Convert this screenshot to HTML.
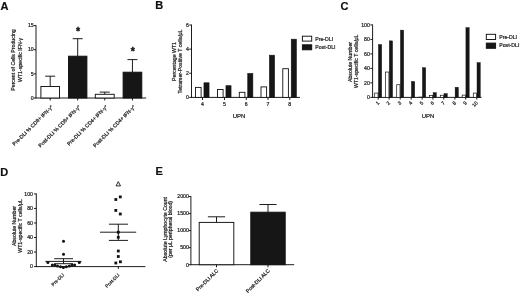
<!DOCTYPE html>
<html><head><meta charset="utf-8"><title>Figure</title>
<style>
html,body{margin:0;padding:0;background:#fff;}
body{width:520px;height:295px;overflow:hidden;}
svg{display:block;font-family:"Liberation Sans",Arial,Helvetica,sans-serif;}
</style></head><body>
<svg width="520" height="295" viewBox="0 0 520 295">
<rect x="0" y="0" width="520" height="295" fill="#fff"/>
<text x="0.50" y="9.50" font-size="11" text-anchor="start" font-weight="bold" fill="#111" stroke="#111" stroke-width="0.2">A</text>
<text x="155.30" y="9.40" font-size="11" text-anchor="start" font-weight="bold" fill="#111" stroke="#111" stroke-width="0.2">B</text>
<text x="340.60" y="9.80" font-size="11" text-anchor="start" font-weight="bold" fill="#111" stroke="#111" stroke-width="0.2">C</text>
<text x="0.30" y="175.80" font-size="11" text-anchor="start" font-weight="bold" fill="#111" stroke="#111" stroke-width="0.2">D</text>
<text x="155.40" y="175.40" font-size="11" text-anchor="start" font-weight="bold" fill="#111" stroke="#111" stroke-width="0.2">E</text>
<g id="panelA">
<line x1="36.00" y1="25.20" x2="36.00" y2="98.40" stroke="#111" stroke-width="0.95"/>
<line x1="35.60" y1="98.00" x2="146.20" y2="98.00" stroke="#111" stroke-width="0.95"/>
<line x1="33.70" y1="98.00" x2="36.00" y2="98.00" stroke="#111" stroke-width="0.95"/>
<text x="33.70" y="99.70" font-size="5.2" text-anchor="end" fill="#222" stroke="#222" stroke-width="0.22">0</text>
<line x1="33.70" y1="73.87" x2="36.00" y2="73.87" stroke="#111" stroke-width="0.95"/>
<text x="33.70" y="75.57" font-size="5.2" text-anchor="end" fill="#222" stroke="#222" stroke-width="0.22">5</text>
<line x1="33.70" y1="49.73" x2="36.00" y2="49.73" stroke="#111" stroke-width="0.95"/>
<text x="33.70" y="51.43" font-size="5.2" text-anchor="end" fill="#222" stroke="#222" stroke-width="0.22">10</text>
<line x1="33.70" y1="25.60" x2="36.00" y2="25.60" stroke="#111" stroke-width="0.95"/>
<text x="33.70" y="27.30" font-size="5.2" text-anchor="end" fill="#222" stroke="#222" stroke-width="0.22">15</text>
<line x1="50.20" y1="76.20" x2="50.20" y2="86.50" stroke="#111" stroke-width="0.95"/>
<line x1="45.20" y1="76.20" x2="55.20" y2="76.20" stroke="#111" stroke-width="0.95"/>
<rect x="40.90" y="86.50" width="18.60" height="11.50" fill="#fff" stroke="#111" stroke-width="0.95"/>
<line x1="50.20" y1="98.00" x2="50.20" y2="100.50" stroke="#111" stroke-width="0.95"/>
<text x="53.40" y="107.30" font-size="5.2" text-anchor="end" transform="rotate(-45 53.40 107.30)" fill="#222" stroke="#222" stroke-width="0.22">Pre-DLI % CD8+ IFN-γ<tspan font-size="3.4" dy="-1.6">+</tspan><tspan dy="1.6"></tspan></text>
<line x1="77.70" y1="38.70" x2="77.70" y2="56.20" stroke="#111" stroke-width="0.95"/>
<line x1="72.70" y1="38.70" x2="82.70" y2="38.70" stroke="#111" stroke-width="0.95"/>
<rect x="68.50" y="56.20" width="18.40" height="41.80" fill="#161616" stroke="#111" stroke-width="0.95"/>
<line x1="77.70" y1="98.00" x2="77.70" y2="100.50" stroke="#111" stroke-width="0.95"/>
<text x="80.90" y="107.30" font-size="5.2" text-anchor="end" transform="rotate(-45 80.90 107.30)" fill="#222" stroke="#222" stroke-width="0.22">Post-DLI % CD8+ IFN-γ<tspan font-size="3.4" dy="-1.6">+</tspan><tspan dy="1.6"></tspan></text>
<line x1="104.75" y1="92.10" x2="104.75" y2="94.30" stroke="#111" stroke-width="0.95"/>
<line x1="99.75" y1="92.10" x2="109.75" y2="92.10" stroke="#111" stroke-width="0.95"/>
<rect x="95.30" y="94.30" width="18.90" height="3.70" fill="#fff" stroke="#111" stroke-width="0.95"/>
<line x1="104.75" y1="98.00" x2="104.75" y2="100.50" stroke="#111" stroke-width="0.95"/>
<text x="107.95" y="107.30" font-size="5.2" text-anchor="end" transform="rotate(-45 107.95 107.30)" fill="#222" stroke="#222" stroke-width="0.22">Pre-DLI % CD4+ IFN-γ<tspan font-size="3.4" dy="-1.6">+</tspan><tspan dy="1.6"></tspan></text>
<line x1="132.45" y1="59.60" x2="132.45" y2="72.20" stroke="#111" stroke-width="0.95"/>
<line x1="127.45" y1="59.60" x2="137.45" y2="59.60" stroke="#111" stroke-width="0.95"/>
<rect x="123.10" y="72.20" width="18.70" height="25.80" fill="#161616" stroke="#111" stroke-width="0.95"/>
<line x1="132.45" y1="98.00" x2="132.45" y2="100.50" stroke="#111" stroke-width="0.95"/>
<text x="135.65" y="107.30" font-size="5.2" text-anchor="end" transform="rotate(-45 135.65 107.30)" fill="#222" stroke="#222" stroke-width="0.22">Post-DLI % CD4+ IFN-γ<tspan font-size="3.4" dy="-1.6">+</tspan><tspan dy="1.6"></tspan></text>
<text x="78.00" y="34.80" font-size="10.5" text-anchor="middle" font-weight="bold" fill="#111" stroke="#111" stroke-width="0.4">*</text>
<text x="132.80" y="54.80" font-size="10.5" text-anchor="middle" font-weight="bold" fill="#111" stroke="#111" stroke-width="0.4">*</text>
<text x="15.20" y="60.00" font-size="5.2" text-anchor="middle" transform="rotate(-90 15.20 60.00)" fill="#222" stroke="#222" stroke-width="0.22">Percent of Cells Producing</text>
<text x="21.50" y="60.00" font-size="5.2" text-anchor="middle" transform="rotate(-90 21.50 60.00)" fill="#222" stroke="#222" stroke-width="0.22">WT1-specific IFN-γ</text>
</g>
<g id="panelB">
<line x1="191.50" y1="24.60" x2="191.50" y2="97.80" stroke="#111" stroke-width="0.95"/>
<line x1="191.10" y1="97.40" x2="300.00" y2="97.40" stroke="#111" stroke-width="0.95"/>
<line x1="189.20" y1="97.40" x2="191.50" y2="97.40" stroke="#111" stroke-width="0.95"/>
<text x="188.90" y="99.20" font-size="5.2" text-anchor="end" fill="#222" stroke="#222" stroke-width="0.22">0</text>
<line x1="189.20" y1="73.27" x2="191.50" y2="73.27" stroke="#111" stroke-width="0.95"/>
<text x="188.90" y="75.07" font-size="5.2" text-anchor="end" fill="#222" stroke="#222" stroke-width="0.22">2</text>
<line x1="189.20" y1="49.13" x2="191.50" y2="49.13" stroke="#111" stroke-width="0.95"/>
<text x="188.90" y="50.93" font-size="5.2" text-anchor="end" fill="#222" stroke="#222" stroke-width="0.22">4</text>
<line x1="189.20" y1="25.00" x2="191.50" y2="25.00" stroke="#111" stroke-width="0.95"/>
<text x="188.90" y="26.80" font-size="5.2" text-anchor="end" fill="#222" stroke="#222" stroke-width="0.22">6</text>
<rect x="195.50" y="87.40" width="5.60" height="10.00" fill="#fff" stroke="#111" stroke-width="0.9"/>
<rect x="203.95" y="82.80" width="5.10" height="14.60" fill="#161616" stroke="#111" stroke-width="0.6"/>
<line x1="202.50" y1="97.40" x2="202.50" y2="100.00" stroke="#111" stroke-width="0.95"/>
<text x="202.50" y="105.80" font-size="5.2" text-anchor="middle" fill="#222" stroke="#222" stroke-width="0.22">4</text>
<rect x="217.50" y="89.50" width="5.60" height="7.90" fill="#fff" stroke="#111" stroke-width="0.9"/>
<rect x="225.95" y="85.70" width="5.10" height="11.70" fill="#161616" stroke="#111" stroke-width="0.6"/>
<line x1="224.50" y1="97.40" x2="224.50" y2="100.00" stroke="#111" stroke-width="0.95"/>
<text x="224.50" y="105.80" font-size="5.2" text-anchor="middle" fill="#222" stroke="#222" stroke-width="0.22">5</text>
<rect x="239.30" y="92.30" width="5.60" height="5.10" fill="#fff" stroke="#111" stroke-width="0.9"/>
<rect x="247.75" y="73.50" width="5.10" height="23.90" fill="#161616" stroke="#111" stroke-width="0.6"/>
<line x1="246.30" y1="97.40" x2="246.30" y2="100.00" stroke="#111" stroke-width="0.95"/>
<text x="246.30" y="105.80" font-size="5.2" text-anchor="middle" fill="#222" stroke="#222" stroke-width="0.22">6</text>
<rect x="261.00" y="86.90" width="5.60" height="10.50" fill="#fff" stroke="#111" stroke-width="0.9"/>
<rect x="269.45" y="55.20" width="5.10" height="42.20" fill="#161616" stroke="#111" stroke-width="0.6"/>
<line x1="268.00" y1="97.40" x2="268.00" y2="100.00" stroke="#111" stroke-width="0.95"/>
<text x="268.00" y="105.80" font-size="5.2" text-anchor="middle" fill="#222" stroke="#222" stroke-width="0.22">7</text>
<rect x="282.80" y="68.70" width="5.60" height="28.70" fill="#fff" stroke="#111" stroke-width="0.9"/>
<rect x="291.25" y="39.20" width="5.10" height="58.20" fill="#161616" stroke="#111" stroke-width="0.6"/>
<line x1="289.80" y1="97.40" x2="289.80" y2="100.00" stroke="#111" stroke-width="0.95"/>
<text x="289.80" y="105.80" font-size="5.2" text-anchor="middle" fill="#222" stroke="#222" stroke-width="0.22">8</text>
<text x="239.00" y="117.80" font-size="6.0" text-anchor="middle" fill="#222" stroke="#222" stroke-width="0.22">UPN</text>
<rect x="302.40" y="36.20" width="9.30" height="4.90" fill="#fff" stroke="#111" stroke-width="0.95"/>
<rect x="302.40" y="44.80" width="9.30" height="5.00" fill="#161616" stroke="#111" stroke-width="0.95"/>
<text x="315.30" y="40.60" font-size="5.2" text-anchor="start" fill="#222" stroke="#222" stroke-width="0.22">Pre-DLI</text>
<text x="315.30" y="49.10" font-size="5.2" text-anchor="start" fill="#222" stroke="#222" stroke-width="0.22">Post-DLI</text>
<text x="175.50" y="61.50" font-size="5.2" text-anchor="middle" transform="rotate(-90 175.50 61.50)" fill="#222" stroke="#222" stroke-width="0.22">Percentage WT1</text>
<text x="181.90" y="61.50" font-size="5.2" text-anchor="middle" transform="rotate(-90 181.90 61.50)" fill="#222" stroke="#222" stroke-width="0.22">Tetramer-Positive T cells/μL</text>
</g>
<g id="panelC">
<line x1="372.60" y1="24.50" x2="372.60" y2="97.80" stroke="#111" stroke-width="0.95"/>
<line x1="372.20" y1="97.40" x2="481.50" y2="97.40" stroke="#111" stroke-width="0.95"/>
<line x1="370.30" y1="97.40" x2="372.60" y2="97.40" stroke="#111" stroke-width="0.95"/>
<text x="369.80" y="99.20" font-size="5.2" text-anchor="end" fill="#222" stroke="#222" stroke-width="0.22">0</text>
<line x1="370.30" y1="82.90" x2="372.60" y2="82.90" stroke="#111" stroke-width="0.95"/>
<text x="369.80" y="84.70" font-size="5.2" text-anchor="end" fill="#222" stroke="#222" stroke-width="0.22">20</text>
<line x1="370.30" y1="68.40" x2="372.60" y2="68.40" stroke="#111" stroke-width="0.95"/>
<text x="369.80" y="70.20" font-size="5.2" text-anchor="end" fill="#222" stroke="#222" stroke-width="0.22">40</text>
<line x1="370.30" y1="53.90" x2="372.60" y2="53.90" stroke="#111" stroke-width="0.95"/>
<text x="369.80" y="55.70" font-size="5.2" text-anchor="end" fill="#222" stroke="#222" stroke-width="0.22">60</text>
<line x1="370.30" y1="39.40" x2="372.60" y2="39.40" stroke="#111" stroke-width="0.95"/>
<text x="369.80" y="41.20" font-size="5.2" text-anchor="end" fill="#222" stroke="#222" stroke-width="0.22">80</text>
<line x1="370.30" y1="24.90" x2="372.60" y2="24.90" stroke="#111" stroke-width="0.95"/>
<text x="369.80" y="26.70" font-size="5.2" text-anchor="end" fill="#222" stroke="#222" stroke-width="0.22">100</text>
<rect x="374.70" y="93.05" width="3.30" height="4.35" fill="#fff" stroke="#111" stroke-width="0.7"/>
<rect x="378.40" y="44.48" width="3.30" height="52.92" fill="#161616" stroke="#111" stroke-width="0.4"/>
<line x1="378.20" y1="97.40" x2="378.20" y2="99.60" stroke="#111" stroke-width="0.95"/>
<text x="379.70" y="103.20" font-size="5.0" text-anchor="end" transform="rotate(-45 379.70 103.20)" fill="#222" stroke="#222" stroke-width="0.22">1</text>
<rect x="385.60" y="72.03" width="3.30" height="25.38" fill="#fff" stroke="#111" stroke-width="0.7"/>
<rect x="389.30" y="40.85" width="3.30" height="56.55" fill="#161616" stroke="#111" stroke-width="0.4"/>
<line x1="389.10" y1="97.40" x2="389.10" y2="99.60" stroke="#111" stroke-width="0.95"/>
<text x="390.60" y="103.20" font-size="5.0" text-anchor="end" transform="rotate(-45 390.60 103.20)" fill="#222" stroke="#222" stroke-width="0.22">2</text>
<rect x="396.70" y="84.71" width="3.30" height="12.69" fill="#fff" stroke="#111" stroke-width="0.7"/>
<rect x="400.40" y="30.12" width="3.30" height="67.28" fill="#161616" stroke="#111" stroke-width="0.4"/>
<line x1="400.20" y1="97.40" x2="400.20" y2="99.60" stroke="#111" stroke-width="0.95"/>
<text x="401.70" y="103.20" font-size="5.0" text-anchor="end" transform="rotate(-45 401.70 103.20)" fill="#222" stroke="#222" stroke-width="0.22">3</text>
<rect x="411.40" y="81.45" width="3.30" height="15.95" fill="#161616" stroke="#111" stroke-width="0.4"/>
<line x1="411.20" y1="97.40" x2="411.20" y2="99.60" stroke="#111" stroke-width="0.95"/>
<text x="412.70" y="103.20" font-size="5.0" text-anchor="end" transform="rotate(-45 412.70 103.20)" fill="#222" stroke="#222" stroke-width="0.22">4</text>
<rect x="418.70" y="97.11" width="3.30" height="0.29" fill="#fff" stroke="#111" stroke-width="0.7"/>
<rect x="422.40" y="67.68" width="3.30" height="29.72" fill="#161616" stroke="#111" stroke-width="0.4"/>
<line x1="422.20" y1="97.40" x2="422.20" y2="99.60" stroke="#111" stroke-width="0.95"/>
<text x="423.70" y="103.20" font-size="5.0" text-anchor="end" transform="rotate(-45 423.70 103.20)" fill="#222" stroke="#222" stroke-width="0.22">5</text>
<rect x="429.40" y="95.59" width="3.30" height="1.81" fill="#fff" stroke="#111" stroke-width="0.7"/>
<rect x="433.10" y="92.62" width="3.30" height="4.78" fill="#161616" stroke="#111" stroke-width="0.4"/>
<line x1="432.90" y1="97.40" x2="432.90" y2="99.60" stroke="#111" stroke-width="0.95"/>
<text x="434.40" y="103.20" font-size="5.0" text-anchor="end" transform="rotate(-45 434.40 103.20)" fill="#222" stroke="#222" stroke-width="0.22">6</text>
<rect x="440.30" y="95.23" width="3.30" height="2.17" fill="#fff" stroke="#111" stroke-width="0.7"/>
<rect x="444.00" y="93.56" width="3.30" height="3.84" fill="#161616" stroke="#111" stroke-width="0.4"/>
<line x1="443.80" y1="97.40" x2="443.80" y2="99.60" stroke="#111" stroke-width="0.95"/>
<text x="445.30" y="103.20" font-size="5.0" text-anchor="end" transform="rotate(-45 445.30 103.20)" fill="#222" stroke="#222" stroke-width="0.22">7</text>
<rect x="455.10" y="87.25" width="3.30" height="10.15" fill="#161616" stroke="#111" stroke-width="0.4"/>
<line x1="454.90" y1="97.40" x2="454.90" y2="99.60" stroke="#111" stroke-width="0.95"/>
<text x="456.40" y="103.20" font-size="5.0" text-anchor="end" transform="rotate(-45 456.40 103.20)" fill="#222" stroke="#222" stroke-width="0.22">8</text>
<rect x="462.20" y="95.08" width="3.30" height="2.32" fill="#fff" stroke="#111" stroke-width="0.7"/>
<rect x="465.90" y="27.58" width="3.30" height="69.82" fill="#161616" stroke="#111" stroke-width="0.4"/>
<line x1="465.70" y1="97.40" x2="465.70" y2="99.60" stroke="#111" stroke-width="0.95"/>
<text x="467.20" y="103.20" font-size="5.0" text-anchor="end" transform="rotate(-45 467.20 103.20)" fill="#222" stroke="#222" stroke-width="0.22">9</text>
<rect x="473.30" y="93.05" width="3.30" height="4.35" fill="#fff" stroke="#111" stroke-width="0.7"/>
<rect x="477.00" y="62.60" width="3.30" height="34.80" fill="#161616" stroke="#111" stroke-width="0.4"/>
<line x1="476.80" y1="97.40" x2="476.80" y2="99.60" stroke="#111" stroke-width="0.95"/>
<text x="478.30" y="103.20" font-size="5.0" text-anchor="end" transform="rotate(-45 478.30 103.20)" fill="#222" stroke="#222" stroke-width="0.22">10</text>
<text x="428.00" y="118.20" font-size="6.0" text-anchor="middle" fill="#222" stroke="#222" stroke-width="0.22">UPN</text>
<rect x="486.30" y="34.30" width="9.30" height="5.20" fill="#fff" stroke="#111" stroke-width="0.95"/>
<rect x="486.30" y="43.10" width="9.30" height="5.20" fill="#161616" stroke="#111" stroke-width="0.95"/>
<text x="499.20" y="39.00" font-size="5.2" text-anchor="start" fill="#222" stroke="#222" stroke-width="0.22">Pre-DLI</text>
<text x="499.20" y="47.30" font-size="5.2" text-anchor="start" fill="#222" stroke="#222" stroke-width="0.22">Post-DLI</text>
<text x="351.50" y="62.00" font-size="5.2" text-anchor="middle" transform="rotate(-90 351.50 62.00)" fill="#222" stroke="#222" stroke-width="0.22">Absolute Number</text>
<text x="358.30" y="61.30" font-size="5.2" text-anchor="middle" transform="rotate(-90 358.30 61.30)" fill="#222" stroke="#222" stroke-width="0.22">WT1-specific T cells/μL</text>
</g>
<g id="panelD">
<line x1="36.30" y1="193.50" x2="36.30" y2="267.00" stroke="#111" stroke-width="0.95"/>
<line x1="35.90" y1="266.60" x2="145.40" y2="266.60" stroke="#111" stroke-width="0.95"/>
<line x1="34.00" y1="266.60" x2="36.30" y2="266.60" stroke="#111" stroke-width="0.95"/>
<text x="33.00" y="268.40" font-size="5.2" text-anchor="end" fill="#222" stroke="#222" stroke-width="0.22">0</text>
<line x1="34.00" y1="252.06" x2="36.30" y2="252.06" stroke="#111" stroke-width="0.95"/>
<text x="33.00" y="253.86" font-size="5.2" text-anchor="end" fill="#222" stroke="#222" stroke-width="0.22">20</text>
<line x1="34.00" y1="237.52" x2="36.30" y2="237.52" stroke="#111" stroke-width="0.95"/>
<text x="33.00" y="239.32" font-size="5.2" text-anchor="end" fill="#222" stroke="#222" stroke-width="0.22">40</text>
<line x1="34.00" y1="222.98" x2="36.30" y2="222.98" stroke="#111" stroke-width="0.95"/>
<text x="33.00" y="224.78" font-size="5.2" text-anchor="end" fill="#222" stroke="#222" stroke-width="0.22">60</text>
<line x1="34.00" y1="208.44" x2="36.30" y2="208.44" stroke="#111" stroke-width="0.95"/>
<text x="33.00" y="210.24" font-size="5.2" text-anchor="end" fill="#222" stroke="#222" stroke-width="0.22">80</text>
<line x1="34.00" y1="193.90" x2="36.30" y2="193.90" stroke="#111" stroke-width="0.95"/>
<text x="33.00" y="195.70" font-size="5.2" text-anchor="end" fill="#222" stroke="#222" stroke-width="0.22">100</text>
<line x1="45.40" y1="261.40" x2="81.50" y2="261.40" stroke="#111" stroke-width="0.95"/>
<line x1="54.20" y1="258.70" x2="73.00" y2="258.70" stroke="#111" stroke-width="0.95"/>
<line x1="63.50" y1="258.70" x2="63.50" y2="263.70" stroke="#111" stroke-width="0.95"/>
<line x1="54.20" y1="263.70" x2="73.00" y2="263.70" stroke="#111" stroke-width="0.95"/>
<circle cx="63.5" cy="241.2" r="1.5" fill="#111"/>
<circle cx="63.5" cy="254.2" r="1.5" fill="#111"/>
<circle cx="47.9" cy="262.6" r="1.5" fill="#111"/>
<circle cx="79.3" cy="262.6" r="1.5" fill="#111"/>
<circle cx="52.3" cy="265.0" r="1.5" fill="#111"/>
<circle cx="54.9" cy="265.0" r="1.5" fill="#111"/>
<circle cx="72.0" cy="265.0" r="1.5" fill="#111"/>
<circle cx="74.6" cy="265.0" r="1.5" fill="#111"/>
<circle cx="57.5" cy="266.0" r="1.5" fill="#111"/>
<circle cx="69.3" cy="266.0" r="1.5" fill="#111"/>
<circle cx="60.5" cy="266.7" r="1.5" fill="#111"/>
<circle cx="66.3" cy="266.7" r="1.5" fill="#111"/>
<circle cx="63.4" cy="267.5" r="1.5" fill="#111"/>
<line x1="100.00" y1="232.20" x2="136.20" y2="232.20" stroke="#111" stroke-width="0.95"/>
<line x1="108.90" y1="224.20" x2="128.00" y2="224.20" stroke="#111" stroke-width="0.95"/>
<line x1="108.90" y1="240.40" x2="128.00" y2="240.40" stroke="#111" stroke-width="0.95"/>
<line x1="118.30" y1="224.20" x2="118.30" y2="240.40" stroke="#111" stroke-width="0.95"/>
<rect x="118.90" y="195.50" width="2.8" height="2.8" fill="#111"/>
<rect x="114.40" y="198.10" width="2.8" height="2.8" fill="#111"/>
<rect x="114.40" y="209.00" width="2.8" height="2.8" fill="#111"/>
<rect x="118.90" y="212.60" width="2.8" height="2.8" fill="#111"/>
<rect x="116.90" y="230.80" width="2.8" height="2.8" fill="#111"/>
<rect x="116.90" y="235.90" width="2.8" height="2.8" fill="#111"/>
<rect x="116.90" y="249.60" width="2.8" height="2.8" fill="#111"/>
<rect x="116.90" y="255.10" width="2.8" height="2.8" fill="#111"/>
<rect x="119.00" y="260.40" width="2.8" height="2.8" fill="#111"/>
<rect x="114.40" y="261.60" width="2.8" height="2.8" fill="#111"/>
<path d="M118.3 181.6 L120.5 185.9 L116.1 185.9 Z" fill="#fff" stroke="#111" stroke-width="0.9"/>
<line x1="63.50" y1="266.60" x2="63.50" y2="269.00" stroke="#111" stroke-width="0.95"/>
<line x1="118.30" y1="266.60" x2="118.30" y2="269.00" stroke="#111" stroke-width="0.95"/>
<text x="64.50" y="275.20" font-size="4.6" text-anchor="end" transform="rotate(-45 64.50 275.20)" fill="#222" stroke="#222" stroke-width="0.22">Pre-DLI</text>
<text x="119.70" y="275.40" font-size="4.6" text-anchor="end" transform="rotate(-45 119.70 275.40)" fill="#222" stroke="#222" stroke-width="0.22">Post-DLI</text>
<text x="15.70" y="226.00" font-size="5.2" text-anchor="middle" transform="rotate(-90 15.70 226.00)" fill="#222" stroke="#222" stroke-width="0.22">Absolute Number</text>
<text x="22.20" y="226.00" font-size="5.2" text-anchor="middle" transform="rotate(-90 22.20 226.00)" fill="#222" stroke="#222" stroke-width="0.22">WT1-specific T cells/μL</text>
</g>
<g id="panelE">
<line x1="190.90" y1="196.10" x2="190.90" y2="265.10" stroke="#111" stroke-width="0.95"/>
<line x1="190.50" y1="264.70" x2="294.20" y2="264.70" stroke="#111" stroke-width="0.95"/>
<line x1="188.60" y1="264.70" x2="190.90" y2="264.70" stroke="#111" stroke-width="0.95"/>
<text x="188.90" y="266.50" font-size="5.2" text-anchor="end" fill="#222" stroke="#222" stroke-width="0.22">0</text>
<line x1="188.60" y1="247.65" x2="190.90" y2="247.65" stroke="#111" stroke-width="0.95"/>
<text x="188.90" y="249.45" font-size="5.2" text-anchor="end" fill="#222" stroke="#222" stroke-width="0.22">500</text>
<line x1="188.60" y1="230.60" x2="190.90" y2="230.60" stroke="#111" stroke-width="0.95"/>
<text x="188.90" y="232.40" font-size="5.2" text-anchor="end" fill="#222" stroke="#222" stroke-width="0.22">1000</text>
<line x1="188.60" y1="213.55" x2="190.90" y2="213.55" stroke="#111" stroke-width="0.95"/>
<text x="188.90" y="215.35" font-size="5.2" text-anchor="end" fill="#222" stroke="#222" stroke-width="0.22">1500</text>
<line x1="188.60" y1="196.50" x2="190.90" y2="196.50" stroke="#111" stroke-width="0.95"/>
<text x="188.90" y="198.30" font-size="5.2" text-anchor="end" fill="#222" stroke="#222" stroke-width="0.22">2000</text>
<line x1="216.50" y1="216.80" x2="216.50" y2="222.40" stroke="#111" stroke-width="0.95"/>
<line x1="207.90" y1="216.80" x2="225.10" y2="216.80" stroke="#111" stroke-width="0.95"/>
<rect x="199.20" y="222.40" width="34.60" height="42.30" fill="#fff" stroke="#111" stroke-width="0.95"/>
<line x1="216.50" y1="264.70" x2="216.50" y2="267.30" stroke="#111" stroke-width="0.95"/>
<text x="218.70" y="271.00" font-size="5.2" text-anchor="end" transform="rotate(-45 218.70 271.00)" fill="#222" stroke="#222" stroke-width="0.22">Pre-DLI ALC</text>
<line x1="268.00" y1="204.50" x2="268.00" y2="212.20" stroke="#111" stroke-width="0.95"/>
<line x1="259.40" y1="204.50" x2="276.60" y2="204.50" stroke="#111" stroke-width="0.95"/>
<rect x="250.80" y="212.20" width="34.40" height="52.50" fill="#161616" stroke="#111" stroke-width="0.95"/>
<line x1="268.00" y1="264.70" x2="268.00" y2="267.30" stroke="#111" stroke-width="0.95"/>
<text x="270.20" y="271.00" font-size="5.2" text-anchor="end" transform="rotate(-45 270.20 271.00)" fill="#222" stroke="#222" stroke-width="0.22">Post-DLI ALC</text>
<text x="166.60" y="229.30" font-size="5.2" text-anchor="middle" transform="rotate(-90 166.60 229.30)" fill="#222" stroke="#222" stroke-width="0.22">Absolute Lymphocyte Count</text>
<text x="172.40" y="229.30" font-size="5.2" text-anchor="middle" transform="rotate(-90 172.40 229.30)" fill="#222" stroke="#222" stroke-width="0.22">(per μL peripheral blood)</text>
</g>
</svg>
</body></html>
